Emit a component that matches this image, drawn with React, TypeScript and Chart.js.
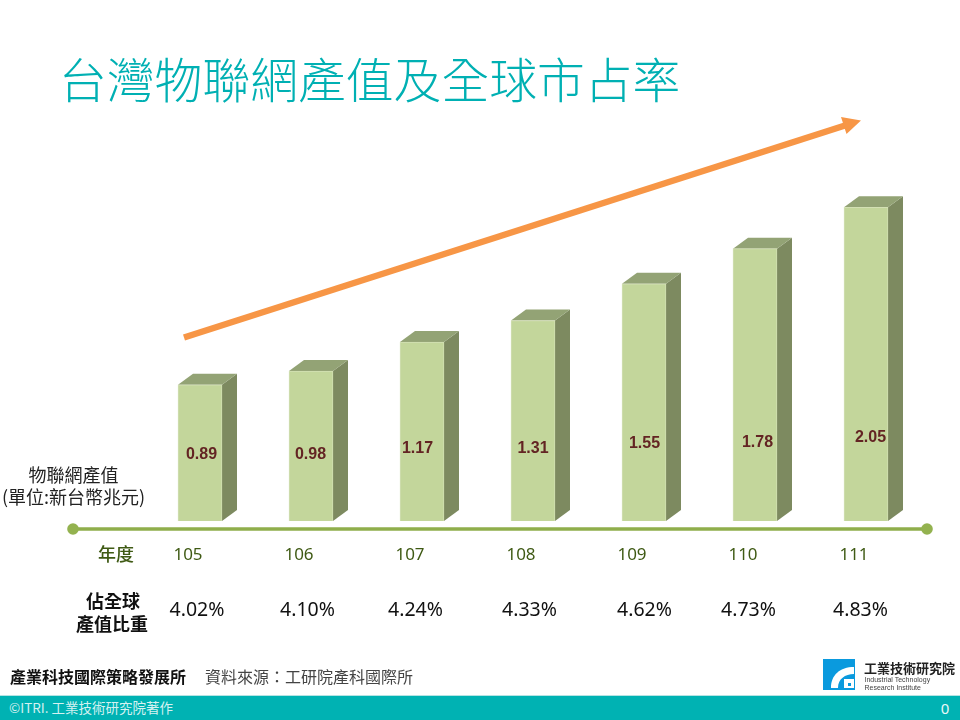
import React, { useEffect, useRef } from "react";
import { Chart, registerables } from "chart.js";

Chart.register(...registerables);

const years = ["105", "106", "107", "108", "109", "110", "111"];
const outputValues = [0.89, 0.98, 1.17, 1.31, 1.55, 1.78, 2.05];
const globalShares = ["4.02%", "4.10%", "4.24%", "4.33%", "4.62%", "4.73%", "4.83%"];
const labelHeights = [0.44, 0.44, 0.48, 0.48, 0.51, 0.52, 0.55];
const labelShift = [1.5, -0.5, -4.5, 0, 0.5, 2.5, 4.5];
const shareShift = [-3, -3.5, -6.5, -3.5, 0.5, -6.5, -5.5];

const CJK = '"Noto Sans CJK TC", "Noto Sans", sans-serif';
const DEPTH_X = 15;
const DEPTH_Y = 11;

const bars3d = {
  id: "bars3d",
  beforeDatasetsDraw(chart: any) {
    const { ctx } = chart;
    const meta = chart.getDatasetMeta(0);
    ctx.save();
    meta.data.forEach((bar: any) => {
      const left = bar.x - bar.width / 2;
      const right = bar.x + bar.width / 2;
      const top = bar.y;
      const base = bar.base;
      ctx.fillStyle = "#7d8a60";
      ctx.beginPath();
      ctx.moveTo(right, top);
      ctx.lineTo(right + DEPTH_X, top - DEPTH_Y);
      ctx.lineTo(right + DEPTH_X, base - DEPTH_Y);
      ctx.lineTo(right, base);
      ctx.closePath();
      ctx.fill();
      ctx.fillStyle = "#93a375";
      ctx.beginPath();
      ctx.moveTo(left, top);
      ctx.lineTo(left + DEPTH_X, top - DEPTH_Y);
      ctx.lineTo(right + DEPTH_X, top - DEPTH_Y);
      ctx.lineTo(right, top);
      ctx.closePath();
      ctx.fill();
    });
    ctx.restore();
  },
  afterDatasetsDraw(chart: any) {
    const { ctx, scales } = chart;
    ctx.save();
    ctx.textAlign = "center";
    ctx.textBaseline = "middle";
    // Bar value labels
    ctx.font = 'bold 16px "Liberation Sans", Arial, sans-serif';
    ctx.fillStyle = "#632423";
    outputValues.forEach((v, i) => {
      ctx.fillText(
        v.toFixed(2),
        scales.x.getPixelForValue(i) + labelShift[i],
        scales.y.getPixelForValue(labelHeights[i]) + 1
      );
    });
    // Global share row, aligned with the year axis
    ctx.font = `19.5px "Noto Sans", ${CJK}`;
    ctx.fillStyle = "#111111";
    globalShares.forEach((s, i) => {
      ctx.fillText(s, scales.x.getPixelForValue(i) + shareShift[i], 610.5);
    });
    ctx.restore();
  },
  afterDraw(chart: any) {
    const { ctx } = chart;
    ctx.save();
    // Green timeline
    ctx.strokeStyle = "#8fae4b";
    ctx.fillStyle = "#93b24f";
    ctx.lineWidth = 3.5;
    ctx.beginPath();
    ctx.moveTo(73, 529);
    ctx.lineTo(927, 529);
    ctx.stroke();
    [73, 927].forEach((x) => {
      ctx.beginPath();
      ctx.arc(x, 529, 5.8, 0, Math.PI * 2);
      ctx.fill();
    });
    // Orange trend arrow
    ctx.strokeStyle = "#f79646";
    ctx.fillStyle = "#f79646";
    ctx.lineWidth = 6.5;
    ctx.beginPath();
    ctx.moveTo(184, 337.5);
    ctx.lineTo(845, 125.5);
    ctx.stroke();
    ctx.beginPath();
    ctx.moveTo(841, 117);
    ctx.lineTo(861, 120.5);
    ctx.lineTo(846.5, 134);
    ctx.closePath();
    ctx.fill();
    ctx.restore();
  },
};

function T({ x, y, size, color = "#222", weight = 400, align = "left", font = CJK, children }: any) {
  const tx = align === "center" ? "-50%" : align === "right" ? "-100%" : "0";
  return (
    <div
      style={{
        position: "absolute",
        left: x,
        top: y,
        transform: `translate(${tx}, -50%)`,
        fontFamily: font,
        fontSize: size,
        fontWeight: weight,
        color,
        lineHeight: 1,
        whiteSpace: "nowrap",
      }}
    >
      {children}
    </div>
  );
}

export default function App() {
  const ref = useRef<HTMLCanvasElement>(null);
  useEffect(() => {
    const chart = new Chart(ref.current!, {
      type: "bar",
      data: {
        labels: years,
        datasets: [
          {
            label: "物聯網產值",
            data: outputValues,
            backgroundColor: "#c3d69b",
            borderColor: "#d3e0b4",
            borderWidth: 1,
            barThickness: 44,
          },
        ],
      },
      options: {
        responsive: false,
        animation: false,
        devicePixelRatio: 1,
        layout: { padding: { left: 144.5, right: 38.5, top: 62, bottom: 0 } },
        plugins: { legend: { display: false }, tooltip: { enabled: false }, title: { display: false } },
        scales: {
          x: {
            grid: { display: false },
            border: { display: false },
            afterFit(scale: any) {
              scale.height = 199;
            },
            ticks: {
              color: "#3f5a14",
              font: { family: '"Noto Sans"', size: 17 },
              padding: 16,
              labelOffset: -12,
              maxRotation: 0,
            },
          },
          y: {
            display: false,
            min: 0,
            max: 3,
          },
        },
      },
      plugins: [bars3d],
    } as any);
    return () => chart.destroy();
  }, []);

  return (
    <div style={{ position: "absolute", left: 0, top: 0, width: 960, height: 720, background: "#fff", overflow: "hidden" }}>
      <canvas ref={ref} width={960} height={720} style={{ position: "absolute", left: 0, top: 0, display: "block" }} />
      <T x={59} y={78} size={47.8} color="#00b0b3" weight={300}>台灣物聯網產值及全球市占率</T>
      <T x={73.5} y={473.5} size={18} align="center">物聯網產值</T>
      <T x={73.5} y={496} size={18} align="center">(單位:新台幣兆元)</T>
      <T x={116} y={552.5} size={18} color="#3f5a14" weight={500} align="center">年度</T>
      <T x={113} y={600} size={18} color="#111" weight={700} align="center">佔全球</T>
      <T x={112} y={623} size={18} color="#111" weight={700} align="center">產值比重</T>
      <T x={10} y={676} size={16} color="#111" weight={700}>產業科技國際策略發展所</T>
      <T x={205} y={676} size={16} color="#444">資料來源：工研院產科國際所</T>
      <svg width={32} height={31} viewBox="0 0 32 31" style={{ position: "absolute", left: 823, top: 659 }}>
        <rect width={32} height={31} fill="#0a9ade" />
        <path d="M8 29 C8 16 17 8 31 8 L31 15 C22 15 15 20 15 29 Z" fill="#fff" />
        <rect x={21} y={20} width={10} height={9} fill="#fff" />
        <rect x={25} y={24} width={3} height={3} fill="#0a9ade" />
      </svg>
      <T x={864} y={667} size={13} color="#222" weight={700}>工業技術研究院</T>
      <T x={864.5} y={679} size={7} color="#444" font='"Liberation Sans", sans-serif'>Industrial Technology</T>
      <T x={864.5} y={687} size={7} color="#444" font='"Liberation Sans", sans-serif'>Research Institute</T>
      <div style={{ position: "absolute", left: 0, top: 695, width: 960, height: 25, background: "#00b2b3", borderTop: "1px solid #b5e3e3", boxSizing: "border-box" }} />
      <T x={9} y={707.5} size={13.5} color="#d5f1f1">©ITRI. 工業技術研究院著作</T>
      <T x={945} y={708} size={15} color="#e8f8f8" align="center" font='"Noto Sans", sans-serif'>0</T>
    </div>
  );
}
